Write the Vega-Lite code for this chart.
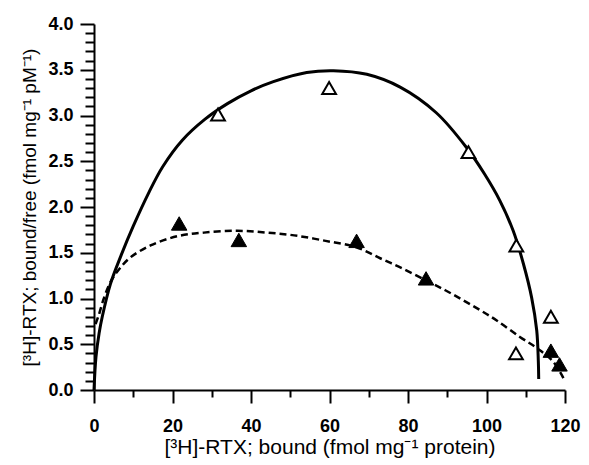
{
  "$schema": "https://vega.github.io/schema/vega-lite/v6.json",
  "width": 471,
  "height": 366,
  "autosize": {"type": "none"},
  "padding": {"left": 94, "top": 24, "right": 24, "bottom": 75},
  "background": "white",
  "config": {
    "view": {"stroke": null},
    "axis": {
      "domainColor": "black",
      "domainWidth": 2,
      "tickColor": "black",
      "tickWidth": 2,
      "ticks": true,
      "grid": false,
      "zindex": 1,
      "labelFont": "Liberation Sans",
      "labelFontWeight": "bold",
      "labelFontSize": 18,
      "labelColor": "black",
      "titleFont": "Liberation Sans",
      "titleFontWeight": "normal",
      "titleColor": "black",
      "labelOverlap": false,
      "labelFlush": false
    }
  },
  "datasets": {
    "open": [
      {"bound": 31.6, "ratio": 3.01},
      {"bound": 59.9, "ratio": 3.30},
      {"bound": 95.4, "ratio": 2.60},
      {"bound": 107.6, "ratio": 1.58},
      {"bound": 107.5, "ratio": 0.40},
      {"bound": 116.4, "ratio": 0.80}
    ],
    "filled": [
      {"bound": 21.7, "ratio": 1.82},
      {"bound": 36.9, "ratio": 1.64},
      {"bound": 66.9, "ratio": 1.63},
      {"bound": 84.6, "ratio": 1.22},
      {"bound": 116.4, "ratio": 0.43},
      {"bound": 118.6, "ratio": 0.28}
    ],
    "solid": [
      {"o": 1, "bound": 0, "ratio": 0},
      {"o": 2, "bound": 0.5, "ratio": 0.36},
      {"o": 3, "bound": 1.3, "ratio": 0.62},
      {"o": 4, "bound": 2.1, "ratio": 0.8},
      {"o": 5, "bound": 4.2, "ratio": 1.16},
      {"o": 6, "bound": 6.8, "ratio": 1.46},
      {"o": 7, "bound": 10, "ratio": 1.79},
      {"o": 8, "bound": 14, "ratio": 2.16},
      {"o": 9, "bound": 17.5, "ratio": 2.44},
      {"o": 10, "bound": 22.5, "ratio": 2.73},
      {"o": 11, "bound": 28.3, "ratio": 2.96},
      {"o": 12, "bound": 34, "ratio": 3.13},
      {"o": 13, "bound": 40, "ratio": 3.27},
      {"o": 14, "bound": 45.7, "ratio": 3.37},
      {"o": 15, "bound": 54.2, "ratio": 3.47},
      {"o": 16, "bound": 61, "ratio": 3.49},
      {"o": 17, "bound": 69.5, "ratio": 3.45},
      {"o": 18, "bound": 78, "ratio": 3.31},
      {"o": 19, "bound": 87.2, "ratio": 3.03},
      {"o": 20, "bound": 94.9, "ratio": 2.65},
      {"o": 21, "bound": 99.5, "ratio": 2.36},
      {"o": 22, "bound": 103.4, "ratio": 2.07},
      {"o": 23, "bound": 106.8, "ratio": 1.74},
      {"o": 24, "bound": 109.4, "ratio": 1.38},
      {"o": 25, "bound": 111.5, "ratio": 1.01},
      {"o": 26, "bound": 112.8, "ratio": 0.65},
      {"o": 27, "bound": 113.2, "ratio": 0.32},
      {"o": 28, "bound": 113.3, "ratio": 0.12}
    ],
    "dashed": [
      {"o": 1, "bound": 0.4, "ratio": 0.72},
      {"o": 2, "bound": 1.3, "ratio": 0.83},
      {"o": 3, "bound": 2.5, "ratio": 1.0},
      {"o": 4, "bound": 4.2, "ratio": 1.18},
      {"o": 5, "bound": 6.4, "ratio": 1.32},
      {"o": 6, "bound": 9.3, "ratio": 1.45},
      {"o": 7, "bound": 14.4, "ratio": 1.58},
      {"o": 8, "bound": 21.2, "ratio": 1.68},
      {"o": 9, "bound": 28, "ratio": 1.72},
      {"o": 10, "bound": 36.5, "ratio": 1.74},
      {"o": 11, "bound": 44, "ratio": 1.72},
      {"o": 12, "bound": 51, "ratio": 1.69},
      {"o": 13, "bound": 59, "ratio": 1.63},
      {"o": 14, "bound": 66.8, "ratio": 1.56},
      {"o": 15, "bound": 72.9, "ratio": 1.44},
      {"o": 16, "bound": 78.5, "ratio": 1.33},
      {"o": 17, "bound": 84.5, "ratio": 1.2},
      {"o": 18, "bound": 89.5, "ratio": 1.09},
      {"o": 19, "bound": 94.1, "ratio": 0.98},
      {"o": 20, "bound": 98.5, "ratio": 0.87},
      {"o": 21, "bound": 102.6, "ratio": 0.76},
      {"o": 22, "bound": 108.5, "ratio": 0.58},
      {"o": 23, "bound": 112.8, "ratio": 0.46},
      {"o": 24, "bound": 117, "ratio": 0.31},
      {"o": 25, "bound": 119.6, "ratio": 0.13}
    ]
  },
  "resolve": {"axis": {"x": "independent", "y": "independent"}},
  "layer": [
    {
      "data": {"name": "solid"},
      "mark": {"type": "line", "interpolate": "catmull-rom", "color": "black", "strokeWidth": 3},
      "encoding": {
        "x": {
          "field": "bound", "type": "quantitative",
          "scale": {"domain": [0, 120], "nice": false, "zero": false},
          "axis": {"orient": "bottom", "title": null, "labels": false, "values": [10, 30, 50, 70, 90, 110], "tickSize": 7, "domain": false}
        },
        "y": {
          "field": "ratio", "type": "quantitative",
          "scale": {"domain": [0, 4], "nice": false, "zero": false},
          "axis": {"orient": "left", "title": null, "labels": false, "domain": false, "tickSize": 9,
            "values": [0.1, 0.2, 0.3, 0.4, 0.6, 0.7, 0.8, 0.9, 1.1, 1.2, 1.3, 1.4, 1.6, 1.7, 1.8, 1.9, 2.1, 2.2, 2.3, 2.4, 2.6, 2.7, 2.8, 2.9, 3.1, 3.2, 3.3, 3.4, 3.6, 3.7, 3.8, 3.9]}
        },
        "order": {"field": "o", "type": "quantitative"}
      }
    },
    {
      "data": {"name": "dashed"},
      "mark": {"type": "line", "interpolate": "catmull-rom", "color": "black", "strokeWidth": 2.5, "strokeDash": [7, 4]},
      "encoding": {
        "x": {
          "field": "bound", "type": "quantitative",
          "scale": {"domain": [0, 120], "nice": false, "zero": false},
          "axis": {"orient": "bottom", "title": "[³H]-RTX; bound (fmol mg⁻¹ protein)", "titleFontSize": 21, "values": [0, 20, 40, 60, 80, 100, 120], "tickSize": 13, "labelPadding": 14, "titlePadding": 1}
        },
        "y": {
          "field": "ratio", "type": "quantitative",
          "scale": {"domain": [0, 4], "nice": false, "zero": false},
          "axis": {"orient": "left", "title": "[³H]-RTX; bound/free (fmol mg⁻¹ pM⁻¹)", "titleFontSize": 19, "format": ".1f", "tickSize": 14, "labelPadding": 7, "titlePadding": 8,
            "values": [0, 0.5, 1, 1.5, 2, 2.5, 3, 3.5, 4]}
        },
        "order": {"field": "o", "type": "quantitative"}
      }
    },
    {
      "data": {"name": "open"},
      "mark": {"type": "point", "shape": "triangle-up", "size": 190, "filled": false, "stroke": "black", "strokeWidth": 2, "fill": "white", "fillOpacity": 1, "opacity": 1},
      "encoding": {
        "x": {"field": "bound", "type": "quantitative", "axis": null},
        "y": {"field": "ratio", "type": "quantitative", "axis": null}
      }
    },
    {
      "data": {"name": "filled"},
      "mark": {"type": "point", "shape": "triangle-up", "size": 240, "filled": true, "fill": "black", "stroke": "black", "strokeWidth": 1, "opacity": 1},
      "encoding": {
        "x": {"field": "bound", "type": "quantitative", "axis": null},
        "y": {"field": "ratio", "type": "quantitative", "axis": null}
      }
    }
  ]
}
